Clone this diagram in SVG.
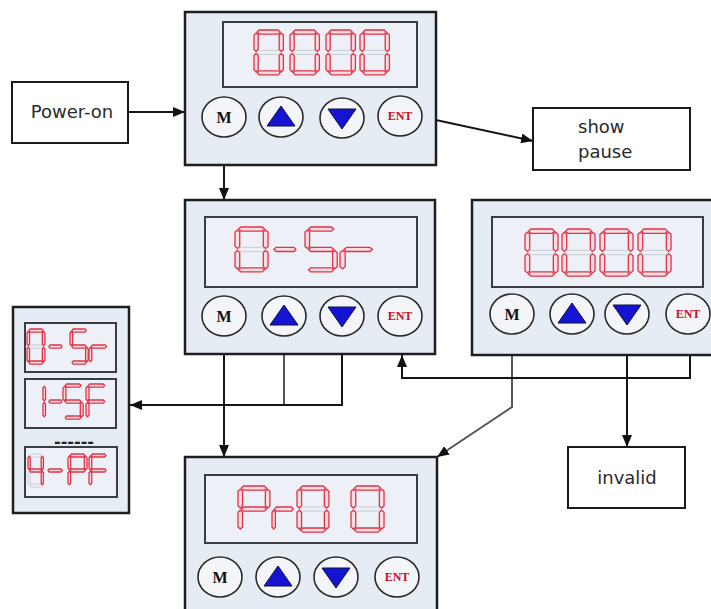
<svg xmlns="http://www.w3.org/2000/svg" width="711" height="609" viewBox="0 0 711 609">
<style>
.bg{fill:#ffffff}
.panel{fill:#e6ecf4;stroke:#1e1e1e;stroke-width:2.5}
.disp{fill:#edf1f7;stroke:#3a3d42;stroke-width:2}
.btn{fill:#f3f5f9;stroke:#2a2a2a;stroke-width:1.6}
.tri{fill:#1414d2;stroke:#101040;stroke-width:1}
.mtxt{font-family:"Liberation Serif",serif;font-weight:bold;font-size:16px;fill:#111;text-anchor:middle}
.etxt{font-family:"Liberation Serif",serif;font-weight:bold;font-size:12px;fill:#c8102e;text-anchor:middle}
.box{fill:#ffffff;stroke:#1a1a1a;stroke-width:2}
.lbl{font-family:"DejaVu Sans",sans-serif;font-size:18px;fill:#2a2a2a}
.on{fill:#fbdde2;stroke:#de3348;stroke-width:1.3}
.off{fill:none;stroke:#c9ced6}
.conn{fill:none;stroke:#151515;stroke-width:2}
.conn2{fill:none;stroke:#555;stroke-width:2}
</style>
<defs>
<marker id="arr" viewBox="0 0 12 10" refX="12" refY="5" markerWidth="12" markerHeight="10" markerUnits="userSpaceOnUse" orient="auto">
<path d="M0,0 L12,5 L0,10 Z" fill="#111"/>
</marker>
<path id="sa" vector-effect="non-scaling-stroke" d="M3,2 L5,0 L23,0 L25,2 L23,4 L5,4 Z"/>
<path id="sb" vector-effect="non-scaling-stroke" d="M26,3 L28,5 L28,19 L26,21 L24,19 L24,5 Z"/>
<path id="sc" vector-effect="non-scaling-stroke" d="M26,23 L28,25 L28,39 L26,41 L24,39 L24,25 Z"/>
<path id="sd" vector-effect="non-scaling-stroke" d="M3,42 L5,40 L23,40 L25,42 L23,44 L5,44 Z"/>
<path id="se" vector-effect="non-scaling-stroke" d="M2,23 L4,25 L4,39 L2,41 L0,39 L0,25 Z"/>
<path id="sf" vector-effect="non-scaling-stroke" d="M2,3 L4,5 L4,19 L2,21 L0,19 L0,5 Z"/>
<path id="sg" vector-effect="non-scaling-stroke" d="M3,22 L5,20 L23,20 L25,22 L23,24 L5,24 Z"/>
<g id="d0"><use href="#sg" class="off"/><use href="#sa" class="on"/><use href="#sb" class="on"/><use href="#sc" class="on"/><use href="#sd" class="on"/><use href="#se" class="on"/><use href="#sf" class="on"/></g>
<g id="dS"><use href="#sa" class="on"/><use href="#sf" class="on"/><use href="#sg" class="on"/><use href="#sc" class="on"/><use href="#sd" class="on"/></g>
<g id="dr"><use href="#se" class="on"/><use href="#sg" class="on"/></g>
<g id="dm"><use href="#sg" class="on"/></g>
<g id="dP"><use href="#sa" class="on"/><use href="#sb" class="on"/><use href="#sf" class="on"/><use href="#sg" class="on"/><use href="#se" class="on"/></g>
<g id="dF"><use href="#sa" class="on"/><use href="#sf" class="on"/><use href="#sg" class="on"/><use href="#se" class="on"/></g>
<g id="d1"><use href="#sb" class="on"/><use href="#sc" class="on"/></g>
<g id="d4"><use href="#sa" class="off"/><use href="#sd" class="off"/><use href="#se" class="off"/><use href="#sf" class="on"/><use href="#sg" class="on"/><use href="#sb" class="on"/><use href="#sc" class="on"/></g>
</defs>
<rect class="bg" x="0" y="0" width="711" height="609"/>

<g id="connectors">
<path class="conn" d="M128,112 L185,112" marker-end="url(#arr)"/>
<path class="conn" d="M422,117 L533,141" marker-end="url(#arr)"/>
<path class="conn" d="M224,137 L224,200" marker-end="url(#arr)"/>
<path class="conn" d="M224,336 L224,457" marker-end="url(#arr)"/>
<path class="conn2" d="M284,336 L284,405"/>
<path class="conn" d="M342,336 L342,405 L130,405" marker-end="url(#arr)"/>
<path class="conn2" d="M512,334 L512,407 L437,457" marker-end="url(#arr)"/>
<path class="conn" d="M572,334 L572,349 L627,349"/>
<path class="conn" d="M627,334 L627,447" marker-end="url(#arr)"/>
<path class="conn" d="M690,334 L690,378 L402,378 L402,355" marker-end="url(#arr)"/>
</g>

<g id="power-on">
<rect class="box" x="12" y="82" width="116" height="61"/>
<text class="lbl" x="72" y="118" text-anchor="middle">Power-on</text>
</g>

<g id="show-pause">
<rect class="box" x="533" y="108" width="157" height="62"/>
<text class="lbl" x="578" y="133">show</text>
<text class="lbl" x="578" y="158">pause</text>
</g>

<g id="invalid">
<rect class="box" x="568" y="447" width="117" height="61"/>
<text class="lbl" x="627" y="484" text-anchor="middle">invalid</text>
</g>

<g id="panel-top">
<rect class="panel" x="185" y="12" width="251" height="153"/>
<rect class="disp" x="223" y="22" width="194" height="65"/>
<use href="#d0" transform="translate(254,30) scale(1.05,1.02)"/>
<use href="#d0" transform="translate(290,30) scale(1.05,1.02)"/>
<use href="#d0" transform="translate(326,30) scale(1.05,1.02)"/>
<use href="#d0" transform="translate(360,30) scale(1.05,1.02)"/>
<ellipse class="btn" cx="224" cy="117" rx="22" ry="20"/>
<text class="mtxt" x="224" y="123">M</text>
<ellipse class="btn" cx="281" cy="117" rx="22" ry="20"/>
<polygon class="tri" points="267,126 295,126 281,106"/>
<ellipse class="btn" cx="342" cy="118" rx="22" ry="20"/>
<polygon class="tri" points="328,109 356,109 342,129"/>
<ellipse class="btn" cx="400" cy="116" rx="22" ry="20"/>
<text class="etxt" x="400" y="120">ENT</text>
</g>

<g id="panel-mid">
<rect class="panel" x="185" y="200" width="250" height="154"/>
<rect class="disp" x="205" y="217" width="212" height="70"/>
<use href="#d0" transform="translate(235,227) scale(1.18,1.02)"/>
<use href="#dm" transform="translate(271,227) scale(1,1.02)"/>
<use href="#dS" transform="translate(305,227) scale(1.15,1.02)"/>
<use href="#dr" transform="translate(340,227) scale(1.3,1.02)"/>
<ellipse class="btn" cx="224" cy="316" rx="22" ry="20"/>
<text class="mtxt" x="224" y="322">M</text>
<ellipse class="btn" cx="284" cy="316" rx="22" ry="20"/>
<polygon class="tri" points="270,325 298,325 284,305"/>
<ellipse class="btn" cx="342" cy="316" rx="22" ry="20"/>
<polygon class="tri" points="328,307 356,307 342,327"/>
<ellipse class="btn" cx="400" cy="316" rx="22" ry="20"/>
<text class="etxt" x="400" y="320">ENT</text>
</g>

<g id="panel-right">
<rect class="panel" x="472" y="200" width="250" height="155"/>
<rect class="disp" x="492" y="217" width="211" height="70"/>
<use href="#d0" transform="translate(525,229) scale(1.18,1.07)"/>
<use href="#d0" transform="translate(562,229) scale(1.18,1.07)"/>
<use href="#d0" transform="translate(600,229) scale(1.18,1.07)"/>
<use href="#d0" transform="translate(638,229) scale(1.18,1.07)"/>
<ellipse class="btn" cx="512" cy="314" rx="22" ry="20"/>
<text class="mtxt" x="512" y="320">M</text>
<ellipse class="btn" cx="572" cy="314" rx="22" ry="20"/>
<polygon class="tri" points="558,323 586,323 572,303"/>
<ellipse class="btn" cx="627" cy="314" rx="22" ry="20"/>
<polygon class="tri" points="613,305 641,305 627,325"/>
<ellipse class="btn" cx="688" cy="314" rx="22" ry="20"/>
<text class="etxt" x="688" y="318">ENT</text>
</g>

<g id="panel-bottom">
<rect class="panel" x="185" y="457" width="252" height="170"/>
<rect class="disp" x="205" y="475" width="212" height="68"/>
<use href="#dP" transform="translate(238,486) scale(1.14,1.05)"/>
<use href="#dr" transform="translate(272,486) scale(0.85,1.05)"/>
<use href="#d0" transform="translate(297,486) scale(1.14,1.05)"/>
<use href="#d0" transform="translate(351,486) scale(1.18,1.05)"/>
<ellipse class="btn" cx="220" cy="577" rx="22" ry="20"/>
<text class="mtxt" x="220" y="583">M</text>
<ellipse class="btn" cx="278" cy="577" rx="22" ry="20"/>
<polygon class="tri" points="264,586 292,586 278,566"/>
<ellipse class="btn" cx="336" cy="577" rx="22" ry="20"/>
<polygon class="tri" points="322,568 350,568 336,588"/>
<ellipse class="btn" cx="397" cy="577" rx="22" ry="20"/>
<text class="etxt" x="397" y="581">ENT</text>
</g>

<g id="panel-list">
<rect class="panel" x="13" y="307" width="116" height="206"/>
<rect class="disp" x="25" y="323" width="91" height="49"/>
<use href="#d0" transform="translate(27,329) scale(0.64,0.8)"/>
<use href="#dm" transform="translate(47,329) scale(0.6,0.8)"/>
<use href="#dS" transform="translate(70,329) scale(0.65,0.8)"/>
<use href="#dr" transform="translate(89,329) scale(0.7,0.8)"/>
<rect class="disp" x="25" y="379" width="91" height="49"/>
<use href="#d1" transform="translate(27.6,384) scale(0.64,0.8)"/>
<use href="#dm" transform="translate(47,384) scale(0.6,0.8)"/>
<use href="#dS" transform="translate(63,384) scale(0.72,0.8)"/>
<use href="#dF" transform="translate(86,384) scale(0.75,0.8)"/>
<text x="74" y="447" text-anchor="middle" font-family="DejaVu Sans, sans-serif" font-weight="bold" font-size="16" fill="#222">------</text>
<rect class="disp" x="25" y="447" width="92" height="50"/>
<use href="#d4" transform="translate(28,454) scale(0.55,0.75)"/>
<use href="#dm" transform="translate(46,454) scale(0.65,0.75)"/>
<use href="#dP" transform="translate(68,454) scale(0.68,0.75)"/>
<use href="#dF" transform="translate(89,454) scale(0.68,0.75)"/>
</g>
</svg>
